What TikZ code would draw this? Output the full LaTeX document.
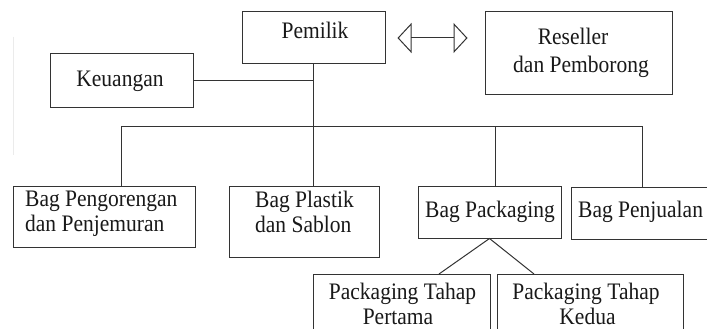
\documentclass[tikz,border=0pt]{standalone}
\usepackage{fontspec}
\setmainfont{Liberation Serif}
\usetikzlibrary{arrows.meta}
\newcommand{\tallt}[1]{\scalebox{1}[1.1]{#1}}
\begin{document}
\begin{tikzpicture}[x=1pt,y=-1pt,
  box/.style={draw=black!80,line width=1pt,rectangle,inner sep=0pt},
  txt/.style={inner sep=0pt,font=\fontsize{21.5}{25}\selectfont,text=black!90},
  conn/.style={draw=black!80,line width=1pt},
  dblarrow/.style={draw=black!80,line width=1pt,{Triangle[open,length=14pt,width=30pt]}-{Triangle[open,length=14pt,width=30pt]}}]
\clip (0,0) rectangle (707,329);
\fill[white] (0,0) rectangle (707,329);
% faint scan line
\coordinate (fa) at (13,37);
\coordinate (fb) at (13,155);
\draw[black!8,line width=0.8pt] (fa) -- (fb);
% boxes
\node[box,minimum width=143pt,minimum height=52pt] (pemilik) at (313.5,38) {};
\node[box,minimum width=143pt,minimum height=53pt] (keu) at (121.5,80.5) {};
\node[box,minimum width=187pt,minimum height=82pt] (res) at (578.5,53) {};
\node[box,minimum width=182pt,minimum height=61pt] (goreng) at (104,216.5) {};
\node[box,minimum width=150pt,minimum height=71pt] (plastik) at (304,221.5) {};
\node[box,minimum width=143pt,minimum height=52pt] (pack) at (489.5,212) {};
\node[box,minimum width=149pt,minimum height=52pt] (jual) at (645.5,213) {};
\node[box,minimum width=177pt,minimum height=66pt] (p1) at (401.5,307) {};
\node[box,minimum width=186pt,minimum height=66pt] (p2) at (590,307) {};
% texts
\node[txt,anchor=base] (tpem) at (315,39) {\tallt{Pemilik}};
\node[txt,anchor=base] (tkeu) at (120,87) {\tallt{Keuangan}};
\node[txt,anchor=base] (tres1) at (573,45) {\tallt{Reseller}};
\node[txt,anchor=base] (tres2) at (581,73) {\tallt{dan Pemborong}};
\node[txt,anchor=base west] (tgor1) at (25,206) {\tallt{Bag Pengorengan}};
\node[txt,anchor=base west] (tgor2) at (25,231) {\tallt{dan Penjemuran}};
\node[txt,anchor=base west] (tpla1) at (255,207.5) {\tallt{Bag Plastik}};
\node[txt,anchor=base west] (tpla2) at (255,232.5) {\tallt{dan Sablon}};
\node[txt,anchor=base] (tpack) at (490,217) {\tallt{Bag Packaging}};
\node[txt,anchor=base west] (tjual) at (578,217) {\tallt{Bag Penjualan}};
\node[txt,anchor=base] (tp1a) at (402.5,299.5) {\tallt{Packaging Tahap}};
\node[txt,anchor=base] (tp1b) at (398,324.5) {\tallt{Pertama}};
\node[txt,anchor=base] (tp2a) at (586,299.5) {\tallt{Packaging Tahap}};
\node[txt,anchor=base] (tp2b) at (587.5,324.5) {\tallt{Kedua}};
% connectors
\coordinate (spine) at (313,64);
\coordinate (busL) at (121,126);
\coordinate (busR) at (642,126);
\coordinate (busP) at (495,126);
\coordinate (pa) at (439,274);
\coordinate (pb) at (534,274);
\path[conn] (spine) -- (spine |- plastik.north);
\path[conn] (keu.east) -- (spine |- keu.east);
\path[conn] (busL |- goreng.north) -- (busL) -- (busR) -- (busR |- jual.north);
\path[conn] (busP) -- (busP |- pack.north);
\path[conn] (pa) -- (pack.south) -- (pb);
\path[dblarrow,shorten <=12pt,shorten >=17pt] (pemilik.east) -- (pemilik.east -| res.west);
\end{tikzpicture}
\end{document}
